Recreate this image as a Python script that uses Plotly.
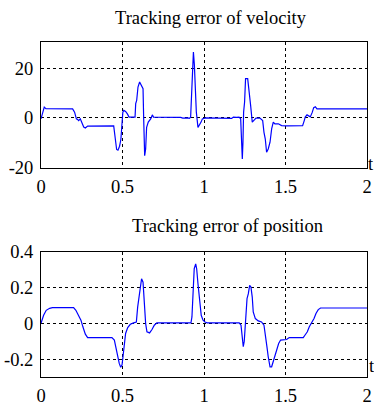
import plotly.graph_objects as go

# Velocity tracking error (t, value)
t_vel = [0.000, 0.010, 0.020, 0.030, 0.194, 0.206, 0.217, 0.224, 0.231, 0.241, 0.251, 0.262,
         0.272, 0.286, 0.446, 0.450, 0.458, 0.464, 0.472, 0.482, 0.490, 0.498, 0.502, 0.508,
         0.519, 0.530, 0.540, 0.577, 0.581, 0.587, 0.595, 0.605, 0.618, 0.626, 0.630, 0.636,
         0.642, 0.648, 0.658, 0.673, 0.683, 0.690, 0.857, 0.870, 0.900, 0.910, 0.918, 0.924,
         0.930, 0.935, 0.941, 0.947, 0.953, 0.963, 0.973, 0.982, 0.990, 1.010, 1.170, 1.180,
         1.200, 1.215, 1.225, 1.231, 1.235, 1.239, 1.243, 1.249, 1.255, 1.268, 1.276, 1.286,
         1.296, 1.307, 1.319, 1.343, 1.360, 1.368, 1.376, 1.384, 1.394, 1.405, 1.415, 1.425,
         1.435, 1.456, 1.476, 1.507, 1.605, 1.615, 1.621, 1.632, 1.642, 1.652, 1.664, 1.673,
         1.683, 1.693, 2.000]
v_err = [-0.4, 2.5, 4.3, 3.7, 3.6, 2.3, -0.4, -0.6, -1.1, -0.4, -1.7, -3.7,
         -4.1, -3.3, -3.2, -5.3, -10.0, -12.7, -13.0, -11.4, -8.7, -0.4, 2.3, 3.0,
         2.6, 1.6, 0.3, 0.3, 5.7, 7.0, 12.4, 14.4, 13.0, 11.7, -0.4, -15.2,
         -12.5, -3.8, -1.7, -0.4, 1.2, 0.3, 0.2, -0.1, 0.0, -0.2, 0.3, 10.4,
         23.9, 26.5, 21.2, 10.4, 2.3, -3.8, -2.8, -1.7, -0.4, 0.0, -0.2, 0.3,
         0.2, 0.3, -0.4, -9.8, -16.5, -9.8, 2.3, 6.4, 15.8, 15.8, 11.7, 5.0,
         -1.7, -0.8, -0.1, -0.1, -1.1, -5.8, -8.5, -13.8, -12.5, -9.8, -4.4, -1.7,
         -2.4, -2.4, -3.1, -3.2, -3.1, -1.1, 0.3, 1.2, 0.7, 0.4, 2.2, 4.1,
         4.5, 3.6, 3.6]

# Position tracking error (t, value)
t_pos = [0.000, 0.016, 0.032, 0.053, 0.070, 0.200, 0.214, 0.231, 0.245, 0.257, 0.272, 0.286,
         0.435, 0.450, 0.458, 0.466, 0.474, 0.480, 0.489, 0.497, 0.503, 0.511, 0.519, 0.532,
         0.548, 0.568, 0.585, 0.593, 0.601, 0.609, 0.617, 0.626, 0.634, 0.642, 0.650, 0.666,
         0.681, 0.695, 0.711, 0.920, 0.926, 0.932, 0.940, 0.949, 0.955, 0.963, 0.973, 0.983,
         0.994, 1.006, 1.020, 1.216, 1.227, 1.235, 1.241, 1.247, 1.255, 1.264, 1.272, 1.280,
         1.288, 1.296, 1.302, 1.315, 1.333, 1.353, 1.368, 1.376, 1.386, 1.394, 1.405, 1.415,
         1.425, 1.435, 1.446, 1.458, 1.470, 1.486, 1.507, 1.523, 1.609, 1.619, 1.634, 1.646,
         1.660, 1.675, 1.687, 1.701, 1.715, 2.000]
p_err = [0.000, 0.044, 0.072, 0.083, 0.087, 0.087, 0.072, 0.044, 0.017, -0.020, -0.061, -0.080,
         -0.080, -0.094, -0.132, -0.160, -0.187, -0.224, -0.246, -0.233, -0.187, -0.113, -0.057, -0.024,
         -0.006, 0.002, 0.007, 0.090, 0.146, 0.202, 0.248, 0.229, 0.090, -0.002, -0.048, -0.054,
         -0.035, -0.011, 0.002, 0.002, 0.035, 0.202, 0.304, 0.331, 0.304, 0.220, 0.109, 0.044,
         0.017, 0.007, 0.002, 0.002, -0.011, -0.076, -0.131, -0.100, 0.035, 0.137, 0.165, 0.211,
         0.202, 0.146, 0.063, 0.026, 0.013, 0.007, -0.011, -0.057, -0.131, -0.187, -0.243, -0.243,
         -0.215, -0.178, -0.150, -0.113, -0.094, -0.091, -0.091, -0.080, -0.080, -0.067, -0.048, -0.020,
         0.002, 0.026, 0.054, 0.076, 0.085, 0.085]

x_ticks = [0, 0.5, 1, 1.5, 2]
x_ticktext = ["0", "0.5", "1", "1.5", "2"]
v_ticks = [-20, 0, 20]
v_ticktext = ["-20", "0", "20"]
p_ticks = [-0.2, 0, 0.2, 0.4]
p_ticktext = ["-0.2", "0", "0.2", "0.4"]

titles = ["Tracking error of velocity", "Tracking error of position"]

FONT = "Liberation Serif, Times New Roman, serif"
FS = 18.5

fig = go.Figure()
fig.add_trace(go.Scatter(x=t_vel, y=v_err, mode="lines", line=dict(color="#0000FF", width=1.2),
                         xaxis="x", yaxis="y", showlegend=False))
fig.add_trace(go.Scatter(x=t_pos, y=p_err, mode="lines", line=dict(color="#0000FF", width=1.2),
                         xaxis="x2", yaxis="y2", showlegend=False))

axis_common = dict(showline=True, linecolor="black", linewidth=1, mirror=True,
                   showgrid=True, gridcolor="black", gridwidth=1, griddash="3px,3px",
                   zeroline=False, ticks="", automargin=False, ticklabeloverflow="allow",
                   tickfont=dict(family=FONT, size=FS, color="black"))

fig.update_layout(
    width=374, height=403,
    margin=dict(l=41, r=7, t=42, b=26),
    paper_bgcolor="white", plot_bgcolor="white",
    font=dict(family=FONT, size=FS, color="black"),
    xaxis=dict(domain=[0, 1], anchor="y", range=[0, 2], tickvals=x_ticks, ticktext=x_ticktext,
               ticklabelstandoff=2, **axis_common),
    yaxis=dict(domain=[0.625, 1.0], anchor="x", range=[-20, 30.5], tickvals=v_ticks,
               ticktext=v_ticktext, ticklabelstandoff=3, **axis_common),
    xaxis2=dict(domain=[0, 1], anchor="y2", range=[0, 2], tickvals=x_ticks, ticktext=x_ticktext,
                ticklabelstandoff=2, **axis_common),
    yaxis2=dict(domain=[0.0, 0.3746], anchor="x2", range=[-0.3, 0.4], tickvals=p_ticks,
                ticktext=p_ticktext, ticklabelstandoff=3, **axis_common),
    annotations=[
        dict(text=titles[0], xref="paper", yref="paper", x=0.52, y=1.0716, xanchor="center",
             yanchor="middle", showarrow=False, font=dict(family=FONT, size=FS, color="black")),
        dict(text=titles[1], xref="paper", yref="paper", x=0.5706, y=0.4507, xanchor="center",
             yanchor="middle", showarrow=False, font=dict(family=FONT, size=FS, color="black")),
        dict(text="t", xref="paper", yref="paper", x=1.001, y=0.636, xanchor="left",
             yanchor="middle", showarrow=False, borderpad=0,
             font=dict(family=FONT, size=FS, color="black")),
        dict(text="t", xref="paper", yref="paper", x=1.004, y=0.0328, xanchor="left",
             yanchor="middle", showarrow=False, borderpad=0,
             font=dict(family=FONT, size=FS, color="black")),
    ],
)

fig.write_html("out.html", config={"displayModeBar": False},
               post_script="document.body.style.margin='0';document.body.style.overflow='hidden';")
